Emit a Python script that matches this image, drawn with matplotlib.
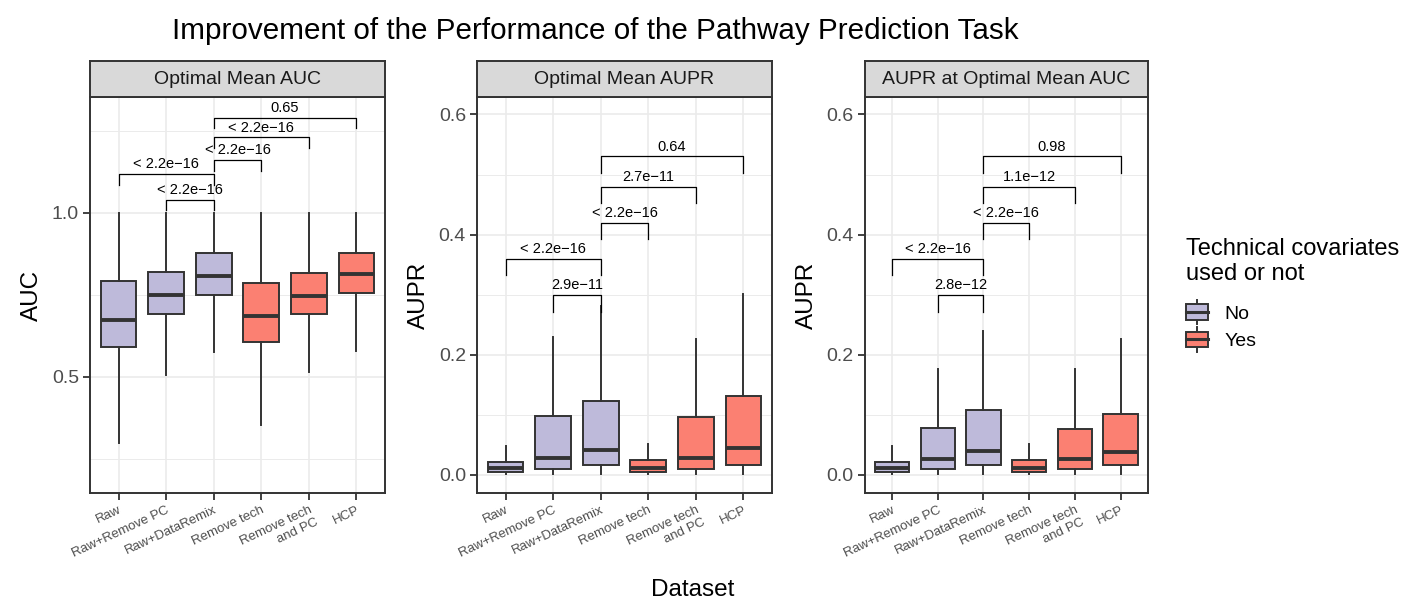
import matplotlib
matplotlib.use('Agg')
import matplotlib.pyplot as plt
from matplotlib.patches import Rectangle
from matplotlib.lines import Line2D
from matplotlib.legend_handler import HandlerBase
from matplotlib.ticker import FixedLocator

plt.rcParams['font.family'] = ['Liberation Sans', 'DejaVu Sans']

# ---------------- data ----------------
categories = ['Raw', 'Raw+Remove PC', 'Raw+DataRemix', 'Remove tech',
              'Remove tech\nand PC', 'HCP']
tech_used = ['No', 'No', 'No', 'Yes', 'Yes', 'Yes']
panel_titles = ['Optimal Mean AUC', 'Optimal Mean AUPR', 'AUPR at Optimal Mean AUC']
y_titles = ['AUC', 'AUPR', 'AUPR']

# Panel 1: Optimal Mean AUC
auc_whislo = [0.299, 0.505, 0.576, 0.351, 0.513, 0.579]
auc_q1     = [0.590, 0.690, 0.750, 0.605, 0.690, 0.755]
auc_med    = [0.672, 0.748, 0.807, 0.684, 0.745, 0.812]
auc_q3     = [0.792, 0.818, 0.878, 0.787, 0.816, 0.878]
auc_whishi = [0.998, 0.999, 0.999, 0.999, 0.999, 0.999]

# Panel 2: Optimal Mean AUPR
aupr_whislo = [0.001, 0.001, 0.001, 0.001, 0.001, 0.001]
aupr_q1     = [0.0045, 0.0095, 0.016, 0.005, 0.0095, 0.016]
aupr_med    = [0.011, 0.028, 0.042, 0.011, 0.028, 0.045]
aupr_q3     = [0.022, 0.098, 0.123, 0.0245, 0.0965, 0.131]
aupr_whishi = [0.048, 0.230, 0.282, 0.051, 0.227, 0.301]

# Panel 3: AUPR at Optimal Mean AUC
aupr2_whislo = [0.001, 0.001, 0.001, 0.001, 0.001, 0.001]
aupr2_q1     = [0.0045, 0.010, 0.016, 0.005, 0.010, 0.016]
aupr2_med    = [0.0115, 0.026, 0.040, 0.0115, 0.026, 0.039]
aupr2_q3     = [0.022, 0.078, 0.108, 0.0245, 0.077, 0.101]
aupr2_whishi = [0.048, 0.177, 0.240, 0.051, 0.176, 0.226]

# Significance brackets (pairs of category indices)
bracket_pairs = [(1, 2), (0, 2), (2, 3), (2, 4), (2, 5)]
p1_labels = ['< 2.2e\u221216', '< 2.2e\u221216', '< 2.2e\u221216', '< 2.2e\u221216', '0.65']
p1_heights = [1.040, 1.119, 1.160, 1.230, 1.290]
p2_labels = ['2.9e\u221211', '< 2.2e\u221216', '< 2.2e\u221216', '2.7e\u221211', '0.64']
p2_heights = [0.300, 0.360, 0.420, 0.480, 0.530]
p3_labels = ['2.8e\u221212', '< 2.2e\u221216', '< 2.2e\u221216', '1.1e\u221212', '0.98']
p3_heights = [0.300, 0.360, 0.420, 0.480, 0.530]

# ---------------- styling ----------------
fill_colors = {'No': '#BEBADA', 'Yes': '#FB8072'}
edge = '#333333'
grid_col = '#EBEBEB'
tick_col = '#4D4D4D'

W, H = 1407, 601
fig = plt.figure(figsize=(W / 100, H / 100), dpi=100)


def px_axes(x0, x1, y0, y1):
    return fig.add_axes([x0 / W, 1 - y1 / H, (x1 - x0) / W, (y1 - y0) / H])


panels = [
    dict(x=(90, 385), ylim=(0.145, 1.353), major=[0.5, 1.0], minor=[0.25, 0.75, 1.25],
         stats=(auc_whislo, auc_q1, auc_med, auc_q3, auc_whishi),
         labels=p1_labels, heights=p1_heights, tip=0.033),
    dict(x=(477, 772), ylim=(-0.030, 0.629), major=[0.0, 0.2, 0.4, 0.6], minor=[0.1, 0.3, 0.5],
         stats=(aupr_whislo, aupr_q1, aupr_med, aupr_q3, aupr_whishi),
         labels=p2_labels, heights=p2_heights, tip=0.028),
    dict(x=(864.5, 1148), ylim=(-0.030, 0.629), major=[0.0, 0.2, 0.4, 0.6], minor=[0.1, 0.3, 0.5],
         stats=(aupr2_whislo, aupr2_q1, aupr2_med, aupr2_q3, aupr2_whishi),
         labels=p3_labels, heights=p3_heights, tip=0.028),
]

positions = list(range(1, len(categories) + 1))
top, bottom, strip_top = 97, 493, 61

for i, p in enumerate(panels):
    ax = px_axes(p['x'][0], p['x'][1], top, bottom)
    lo, q1, med, q3, hi = p['stats']
    stats = [dict(whislo=lo[k], q1=q1[k], med=med[k], q3=q3[k], whishi=hi[k], fliers=[])
             for k in range(len(categories))]
    bp = ax.bxp(stats, positions=positions, widths=0.75, patch_artist=True,
                showcaps=False, showfliers=False,
                boxprops=dict(edgecolor=edge, linewidth=1.4),
                whiskerprops=dict(color=edge, linewidth=1.4),
                medianprops=dict(color=edge, linewidth=2.8, solid_capstyle='butt'),
                zorder=3)
    for patch, t in zip(bp['boxes'], tech_used):
        patch.set_facecolor(fill_colors[t])

    # brackets
    for (a, b), lab, h in zip(bracket_pairs, p['labels'], p['heights']):
        xa, xb = positions[a], positions[b]
        ax.plot([xa, xa, xb, xb], [h - p['tip'], h, h, h - p['tip']],
                color='black', lw=0.9, zorder=4)
        ax.annotate(lab, xy=((xa + xb) / 2, h), xytext=(0, 2), textcoords='offset points',
                    ha='center', va='bottom', fontsize=10.5, color='black', zorder=5)

    ax.set_xlim(0.4, len(categories) + 0.6)
    ax.set_ylim(*p['ylim'])
    ax.set_xticks(positions)
    ax.set_xticklabels(categories, rotation=25, ha='right', va='top',
                       rotation_mode='anchor', fontsize=9.5, color=tick_col,
                       multialignment='right')
    ax.set_yticks(p['major'])
    ax.set_yticklabels([f'{v:.1f}' for v in p['major']], fontsize=14, color=tick_col)
    ax.yaxis.set_minor_locator(FixedLocator(p['minor']))
    ax.tick_params(axis='both', which='major', length=5, width=1.3, color=edge, pad=3)
    ax.tick_params(axis='y', which='minor', length=0)
    ax.grid(True, which='major', color=grid_col, lw=1.2, zorder=0)
    ax.grid(True, which='minor', axis='y', color=grid_col, lw=0.7, zorder=0)
    ax.set_axisbelow(True)
    for s in ax.spines.values():
        s.set_color(edge)
        s.set_linewidth(1.4)
    ax.set_ylabel(y_titles[i], fontsize=17.5, labelpad=6)

    # strip
    sax = px_axes(p['x'][0], p['x'][1], strip_top, top)
    sax.set_facecolor('#D9D9D9')
    sax.set_xticks([])
    sax.set_yticks([])
    for s in sax.spines.values():
        s.set_color(edge)
        s.set_linewidth(1.4)
    sax.text(0.5, 0.5, panel_titles[i], ha='center', va='center', fontsize=14,
             color='#1A1A1A', transform=sax.transAxes)

fig.text(595 / W, 1 - 31 / H, 'Improvement of the Performance of the Pathway Prediction Task',
         ha='center', va='center', fontsize=21.3, color='black')
fig.text(693 / W, 1 - 590 / H, 'Dataset', ha='center', va='center', fontsize=17.5)


class BoxKeyHandler(HandlerBase):
    def create_artists(self, legend, orig_handle, xdescent, ydescent, width, height,
                       fontsize, trans):
        fc = orig_handle.get_facecolor()
        cx = -xdescent + width / 2
        cy = -ydescent + height / 2
        whisk = Line2D([cx, cx], [cy - 0.85 * height, cy + 0.85 * height],
                       color=edge, lw=1.4, transform=trans)
        box = Rectangle((-xdescent, cy - 0.55 * height), width, 1.1 * height,
                        facecolor=fc, edgecolor=edge, lw=1.4, transform=trans)
        med = Line2D([-xdescent, -xdescent + width], [cy, cy],
                     color=edge, lw=2.2, transform=trans)
        return [whisk, box, med]


handles = [Rectangle((0, 0), 1, 1, facecolor=fill_colors[k]) for k in ['No', 'Yes']]
leg = fig.legend(handles, ['No', 'Yes'], title='Technical covariates\nused or not',
                 loc='upper left', bbox_to_anchor=(1186 / W, 1 - 238 / H),
                 frameon=False, fontsize=14, title_fontsize=17,
                 handler_map={Rectangle: BoxKeyHandler()},
                 handlelength=1.12, handleheight=0.75, labelspacing=0.49,
                 handletextpad=0.85, alignment='left', borderaxespad=0, borderpad=0)
leg._legend_box.sep = 14.0

fig.savefig('out.png', dpi=100)
